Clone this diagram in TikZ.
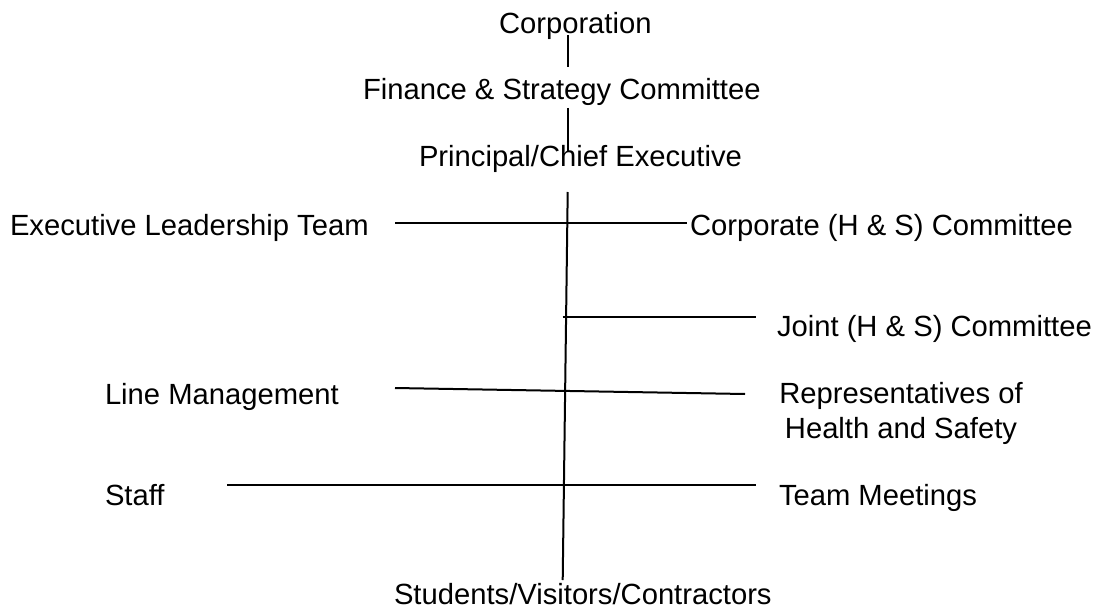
\documentclass[tikz,border=0pt]{standalone}
\usepackage{fontspec}
\setmainfont{Liberation Sans}
\begin{document}
\begin{tikzpicture}[x=0.75pt,y=-0.75pt,
  lbl/.style={inner sep=0pt,outer sep=0pt,anchor=base west,font=\fontsize{21.9}{26.25}\selectfont},
  conn/.style={draw=black,line width=1.5pt}]
\useasboundingbox (0,0) rectangle (1102,613);
% labels
\node[lbl] (corp) at (499,33.5) {Corporation};
\node[lbl] (fin) at (363,100) {Finance \& Strategy Committee};
\node[lbl] (prin) at (419,166.7) {Principal/Chief Executive};
\node[lbl] (elt) at (10,235) {Executive Leadership Team};
\node[lbl] (chs) at (690,235) {Corporate (H \& S) Committee};
\node[lbl] (jhs) at (777,336) {Joint (H \& S) Committee};
\node[lbl,anchor=base,align=center] (rep) at (901,438) {Representatives of\\Health and Safety};
\node[lbl] (lm) at (105,404) {Line Management};
\node[lbl] (staff) at (105,505) {Staff};
\node[lbl] (team) at (779,505) {Team Meetings};
\node[lbl] (stud) at (394,604.7) {Students/Visitors/Contractors};
% connector end points
\coordinate (c1a) at (568,35);   \coordinate (c1b) at (568,67);
\coordinate (c2a) at (568,108);  \coordinate (c2b) at (568,152);
\coordinate (vt) at (567.7,192); \coordinate (vb) at (562.7,580);
\coordinate (e1) at (395,223);   \coordinate (e2) at (687,223);
\coordinate (j1) at (562.7,316.5); \coordinate (j2) at (756,316.5);
\coordinate (l1) at (395,388);   \coordinate (l2) at (745,394);
\coordinate (s1) at (227,485);   \coordinate (s2) at (756,485);
% connectors
\draw[conn] (c1a) -- (c1b);
\draw[conn] (c2a) -- (c2b);
\draw[conn] (vt) -- (vb);
\draw[conn] (e1) -- (e2);
\draw[conn] (j1) -- (j2);
\draw[conn] (l1) -- (l2);
\draw[conn] (s1) -- (s2);
\end{tikzpicture}
\end{document}
